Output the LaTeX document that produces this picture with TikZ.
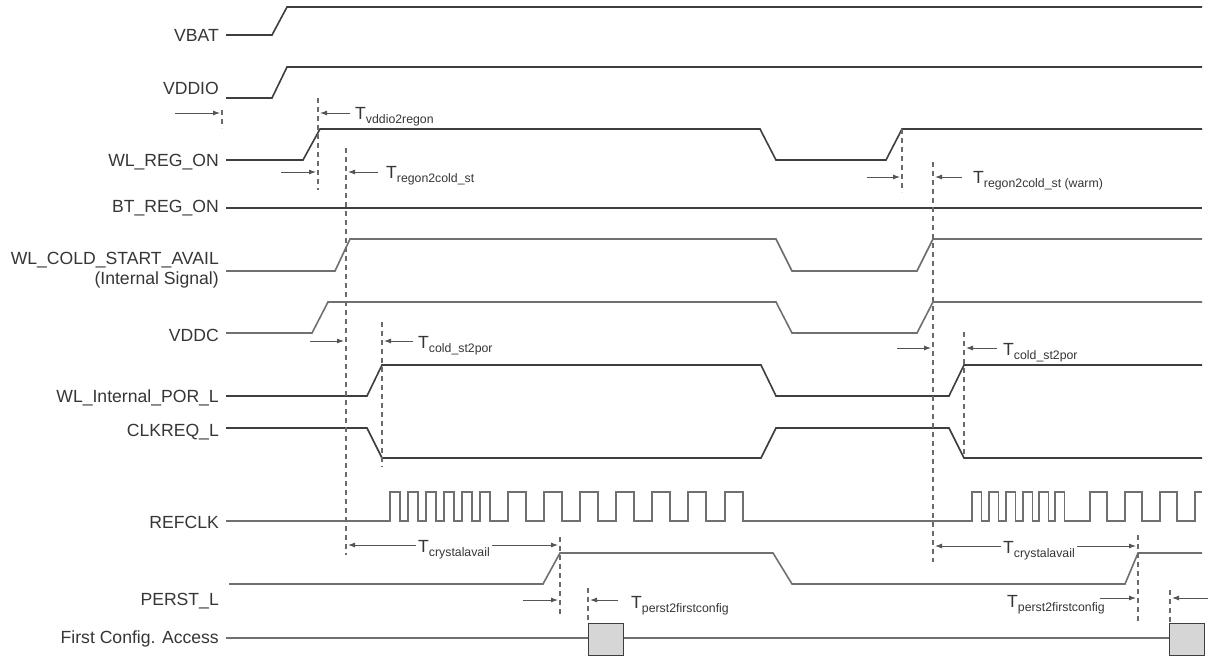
\documentclass[tikz,border=0pt]{standalone}
\usepackage{fontspec}
\setmainfont{Liberation Sans}
\usetikzlibrary{arrows.meta}
\definecolor{sigd}{HTML}{3E3E3E}
\definecolor{sigl}{HTML}{707070}
\definecolor{dashc}{HTML}{6A6A6A}
\definecolor{arrc}{HTML}{555555}
\definecolor{txtc}{HTML}{363636}
\definecolor{boxc}{HTML}{D6D6D6}
\newcommand{\tsub}[1]{T\raisebox{-4pt}{\fontsize{12.3}{12}\selectfont #1}}
\begin{document}
\begin{tikzpicture}[x=1pt,y=-1pt,
  sigdark/.style={line width=1.6pt,draw=sigd,line join=miter},
  siglight/.style={line width=1.6pt,draw=sigl,line join=miter},
  dline/.style={dash pattern=on 5pt off 4pt,line width=1.1pt,draw=dashc},
  tarrow/.style={-{Latex[length=7pt,width=5pt]},line width=0.9pt,draw=arrc,color=arrc},
  darrow/.style={{Latex[length=7pt,width=5pt]}-{Latex[length=7pt,width=5pt]},line width=0.9pt,draw=arrc,color=arrc},
  lab/.style={anchor=base east,inner sep=0pt,text=txtc,font=\fontsize{17.6}{20}\selectfont},
  tlab/.style={anchor=base west,inner sep=0pt,text=txtc,font=\fontsize{17.6}{20}\selectfont},
  cfgbox/.style={draw=sigd,line width=1.2pt,fill=boxc}
]
\useasboundingbox[fill=white] (0,0) rectangle (1208,656);

% ---- signal labels
\node[lab] (lvbat) at (219,41) {VBAT};
\node[lab] (lvddio) at (219,94) {VDDIO};
\node[lab] (lwlreg) at (219,166) {WL\_REG\_ON};
\node[lab] (lbtreg) at (219,212) {BT\_REG\_ON};
\node[lab] (lcold) at (219,264) {WL\_COLD\_START\_AVAIL};
\node[lab] (lcold2) at (219,284) {(Internal Signal)};
\node[lab] (lvddc) at (219,341) {VDDC};
\node[lab] (lpor) at (219,402) {WL\_Internal\_POR\_L};
\node[lab] (lclk) at (219,436) {CLKREQ\_L};
\node[lab] (lref) at (219,528) {REFCLK};
\node[lab] (lperst) at (219,605) {PERST\_L};
\node[lab] (lfca) at (219,643) {First Config. Access};

% ---- waveforms
\draw[sigdark] (226,35) -- (272,35) -- (287,7) -- (1202,7);
\draw[sigdark] (226,98) -- (272,98) -- (287,67) -- (1202,67);
\draw[sigdark] (226,160) -- (303,160) -- (320,129) -- (760,129) -- (776,160) -- (886,160) -- (902,129) -- (1202,129);
\draw[sigdark] (226,208) -- (1202,208);
\draw[siglight] (226,271) -- (335,271) -- (350,239) -- (776,239) -- (792,271) -- (917,271) -- (933,239) -- (1202,239);
\draw[siglight] (226,333) -- (312,333) -- (328,302) -- (776,302) -- (792,333) -- (917,333) -- (933,302) -- (1202,302);
\draw[sigdark] (226,396) -- (367,396) -- (382,365) -- (761,365) -- (776,396) -- (949,396) -- (964,365) -- (1202,365);
\draw[sigdark] (226,428) -- (367,428) -- (382,458) -- (761,458) -- (776,428) -- (949,428) -- (964,458) -- (1202,458);
\draw[siglight] (226,521)
  foreach \r in {390,408,426,444,462,480} { -- (\r,521) -- (\r,492) -- (\r+10,492) -- (\r+10,521) }
  foreach \r in {508,544,580,616,652,688,725} { -- (\r,521) -- (\r,492) -- (\r+18,492) -- (\r+18,521) }
  foreach \r in {972,989,1006,1023,1039,1055} { -- (\r,521) -- (\r,492) -- (\r+9.5,492) -- (\r+9.5,521) }
  foreach \r in {1090,1125,1160} { -- (\r,521) -- (\r,492) -- (\r+17,492) -- (\r+17,521) }
  -- (1195,521) -- (1195,492) -- (1202,492);
\draw[siglight] (229,584) -- (543,584) -- (560,553) -- (773,553) -- (792,584) -- (1125,584) -- (1138,553) -- (1202,553);
\draw[siglight] (226,638) -- (1202,638);
\node[cfgbox,minimum width=35pt,minimum height=32pt,anchor=north west,inner sep=0pt] (box1) at (588,623) {};
\node[cfgbox,minimum width=35pt,minimum height=32pt,anchor=north west,inner sep=0pt] (box2) at (1169,623) {};

% ---- dashed reference lines
\coordinate (d0a) at (222,110); \coordinate (d0b) at (222,128);
\coordinate (d1a) at (318,98);  \coordinate (d1b) at (318,190);
\coordinate (d2a) at (346,148); \coordinate (d2b) at (346,555);
\coordinate (d3a) at (382,322); \coordinate (d3b) at (382,467);
\coordinate (d4a) at (560,537); \coordinate (d4b) at (560,615);
\coordinate (d5a) at (588,588); \coordinate (d5b) at (588,623);
\coordinate (w1a) at (902,129); \coordinate (w1b) at (902,192);
\coordinate (w2a) at (933,162); \coordinate (w2b) at (933,562);
\coordinate (w3a) at (964,332); \coordinate (w3b) at (964,458);
\coordinate (w4a) at (1138,535); \coordinate (w4b) at (1138,622);
\coordinate (w5a) at (1170,590); \coordinate (w5b) at (1170,623);
\foreach \d in {d0,d1,d2,d3,d4,d5,w1,w2,w3,w4,w5} \draw[dline] (\d a) -- (\d b);

% ---- timing arrows (cold)
\coordinate (a0s) at (175,113); \coordinate (a0e) at (220,113);
\draw[tarrow] (a0s) -- (a0e);
\coordinate (a1s) at (350,113); \coordinate (a1e) at (320,113);
\draw[tarrow] (a1s) -- (a1e);
\node[tlab] (tvddio) at (355,119) {\tsub{vddio2regon}};
\coordinate (a2s) at (281,172); \coordinate (a2e) at (316,172);
\draw[tarrow] (a2s) -- (a2e);
\coordinate (a3s) at (378,172); \coordinate (a3e) at (348,172);
\draw[tarrow] (a3s) -- (a3e);
\node[tlab] (tregon) at (386,178) {\tsub{regon2cold\_st}};
\coordinate (a4s) at (310,341); \coordinate (a4e) at (344,341);
\draw[tarrow] (a4s) -- (a4e);
\coordinate (a5s) at (413,341); \coordinate (a5e) at (384,341);
\draw[tarrow] (a5s) -- (a5e);
\node[tlab] (tcold) at (418,348) {\tsub{cold\_st2por}};
\coordinate (a6s) at (348,545); \coordinate (a6e) at (558,545);
\draw[darrow] (a6s) -- (a6e);
\node[tlab,fill=white,inner xsep=2pt] (tcrys) at (416,552) {\tsub{crystalavail}};
\coordinate (a7s) at (523,600); \coordinate (a7e) at (558,600);
\draw[tarrow] (a7s) -- (a7e);
\coordinate (a8s) at (618,600); \coordinate (a8e) at (590,600);
\draw[tarrow] (a8s) -- (a8e);
\node[tlab] (tperst) at (631,608) {\tsub{perst2firstconfig}};

% ---- timing arrows (warm)
\coordinate (b1s) at (867,177); \coordinate (b1e) at (900,177);
\draw[tarrow] (b1s) -- (b1e);
\coordinate (b2s) at (962,177); \coordinate (b2e) at (935,177);
\draw[tarrow] (b2s) -- (b2e);
\node[tlab] (tregonw) at (973,183) {\tsub{regon2cold\_st (warm)}};
\coordinate (b3s) at (897,348); \coordinate (b3e) at (931,348);
\draw[tarrow] (b3s) -- (b3e);
\coordinate (b4s) at (997,348); \coordinate (b4e) at (966,348);
\draw[tarrow] (b4s) -- (b4e);
\node[tlab] (tcoldw) at (1003,355) {\tsub{cold\_st2por}};
\coordinate (b5s) at (935,546); \coordinate (b5e) at (1136,546);
\draw[darrow] (b5s) -- (b5e);
\node[tlab,fill=white,inner xsep=2pt] (tcrysw) at (1001,553) {\tsub{crystalavail}};
\coordinate (b6s) at (1100,598); \coordinate (b6e) at (1136,598);
\draw[tarrow] (b6s) -- (b6e);
\coordinate (b7s) at (1208,598); \coordinate (b7e) at (1172,598);
\draw[tarrow] (b7s) -- (b7e);
\node[tlab] (tperstw) at (1007,607) {\tsub{perst2firstconfig}};
\end{tikzpicture}
\end{document}
